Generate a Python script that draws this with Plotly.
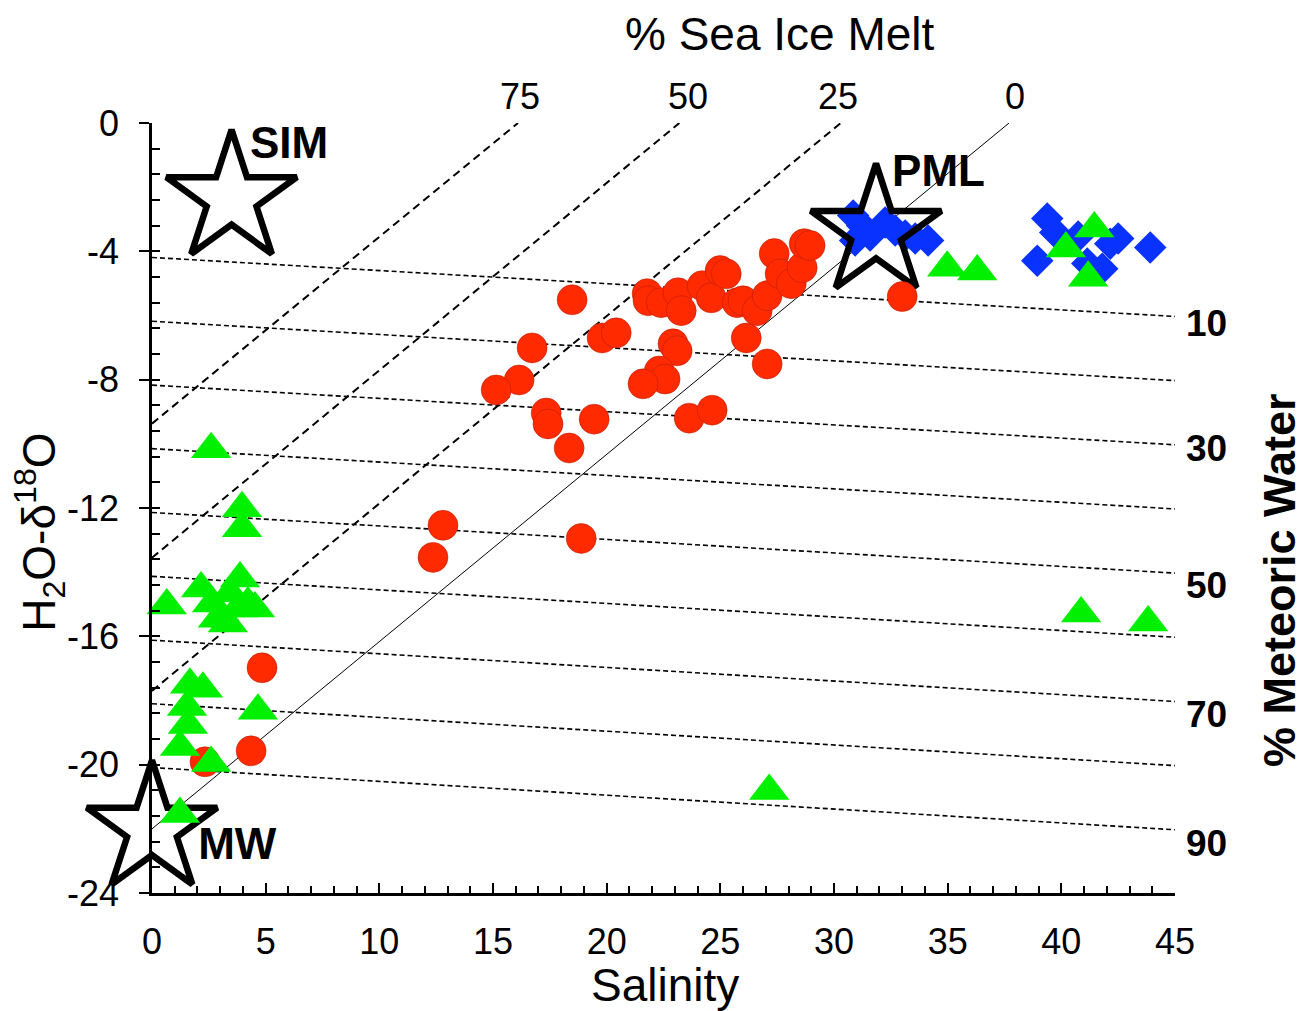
import plotly.graph_objects as go

FONT = "Liberation Sans, Arial, Helvetica, sans-serif"

# ---------------- data ----------------
# Red circles
red_sal = [33.0, 18.48, 16.72, 16.15, 15.14, 17.34, 17.42, 18.35, 19.45, 12.80, 12.36, 18.88,
           4.84, 4.36, 2.33, 21.78, 21.82, 22.40, 23.14, 23.28, 24.2, 24.6, 24.99, 25.26,
           25.74, 26.0, 26.62, 27.06, 27.37, 27.63, 28.12, 28.6, 28.69, 28.95, 26.14, 27.06,
           19.8, 20.42, 22.92, 23.1, 22.31, 22.57, 21.6, 23.63, 24.64]
red_d18o = [-5.41, -5.51, -7.01, -8.01, -8.32, -9.04, -9.38, -10.13, -9.23, -12.54, -13.54, -12.95,
            -16.98, -19.57, -19.91, -5.32, -5.54, -5.60, -5.29, -5.85, -5.07, -5.45, -4.60, -4.70,
            -5.60, -5.54, -5.85, -5.38, -4.07, -4.70, -5.01, -4.51, -3.76, -3.82, -6.70, -7.51,
            -6.70, -6.54, -6.88, -7.10, -7.73, -7.98, -8.13, -9.20, -8.95]

# Blue diamonds
blue_sal = [30.84, 31.24, 31.59, 32.25, 32.69, 33.13, 33.57, 34.14, 30.93,
            39.38, 39.73, 38.94, 42.5, 42.15, 43.91, 41.14, 41.8, 40.74]
blue_d18o = [-2.88, -3.20, -3.51, -3.10, -3.35, -3.51, -3.60, -3.66, -3.66,
             -2.98, -3.41, -4.29, -3.60, -3.76, -3.88, -4.38, -4.54, -3.54]

# Green triangles
green_sal = [2.6, 3.96, 3.96, 0.65, 2.16,
             3.87, 3.43, 4.22, 4.53, 2.64, 2.9, 3.34, 3.78,
             1.67, 2.24, 1.54, 1.58, 1.23, 2.6, 4.66, 1.23,
             27.15, 40.87, 43.82,
             34.98, 36.3, 41.45, 40.2, 41.18]
green_d18o = [-10.17, -12.01, -12.63, -15.04, -14.51,
              -14.20, -14.66, -14.98, -15.13, -14.98, -15.45, -15.60, -15.13,
              -17.51, -17.63, -18.20, -18.76, -19.45, -19.95, -18.32, -21.54,
              -20.82, -15.29, -15.57,
              -4.51, -4.63, -3.29, -3.91, -4.82]

# End members
end_names = ["SIM", "PML", "MW"]
end_sal = [3.5, 31.85, 0.0]
end_d18o = [-2.35, -3.4, -22.0]
end_label_sal = [6.03, 34.6, 3.75]
end_label_d18o = [-0.75, -1.63, -22.6]

# % sea ice melt lines (0 = solid MW-PML line)
sim_pct = ["0", "25", "50", "75"]
sim_line_d18o_at_s0 = [-22.0, -17.7, -13.55, -9.37]
sim_line_sal_at_top = [37.7, 30.3, 23.2, 16.1]
sim_label_sal = [37.97, 30.18, 23.58, 16.19]

# % meteoric water lines
mw_pct = [10, 20, 30, 40, 50, 60, 70, 80, 90]
mw_line_d18o_at_s0 = [-4.19, -6.18, -8.17, -10.15, -12.14, -14.13, -16.12, -18.10, -20.09]
mw_line_d18o_at_s45 = [-6.03, -8.03, -10.03, -12.03, -14.03, -16.03, -18.03, -20.03, -22.03]
mw_label_text = ["10", "30", "50", "70", "90"]
mw_label_d18o = [-6.25, -10.15, -14.4, -18.45, -22.45]

x_ticks = [0, 5, 10, 15, 20, 25, 30, 35, 40, 45]
y_ticks = [0, -4, -8, -12, -16, -20, -24]
y_tick_text = ["0", "-4", "-8", "-12", "-16", "-20", "-24"]

# ---------------- figure ----------------
fig = go.Figure()

# meteoric water lines
for a, b in zip(mw_line_d18o_at_s0, mw_line_d18o_at_s45):
    fig.add_trace(go.Scatter(x=[0, 45], y=[a, b], mode="lines",
                             line=dict(color="black", width=1.6, dash="5px,3px"),
                             hoverinfo="skip", showlegend=False))

# sea ice melt lines
for i, (a, s) in enumerate(zip(sim_line_d18o_at_s0, sim_line_sal_at_top)):
    if i == 0:
        ln = dict(color="black", width=1)
    else:
        ln = dict(color="black", width=2, dash="8px,5px")
    fig.add_trace(go.Scatter(x=[0, s], y=[a, 0], mode="lines", line=ln,
                             hoverinfo="skip", showlegend=False))

# blue diamonds
fig.add_trace(go.Scatter(x=blue_sal, y=blue_d18o, mode="markers", cliponaxis=False,
                         marker=dict(symbol="diamond", size=25, color="#0a32ff",
                                     line=dict(width=0)),
                         showlegend=False))

# end-member stars
fig.add_trace(go.Scatter(x=end_sal, y=end_d18o, mode="markers", cliponaxis=False,
                         marker=dict(symbol="star-open", size=98, color="black",
                                     line=dict(width=6.5, color="black")),
                         showlegend=False))

# red circles
fig.add_trace(go.Scatter(x=red_sal, y=red_d18o, mode="markers", cliponaxis=False,
                         marker=dict(symbol="circle", size=30, color="#ff2a00",
                                     line=dict(width=0.8, color="rgba(170,25,0,0.6)")),
                         showlegend=False))

# green triangles
fig.add_trace(go.Scatter(x=green_sal, y=green_d18o, mode="markers", cliponaxis=False,
                         marker=dict(symbol="triangle-up", size=35, color="#00f000",
                                     line=dict(width=0)),
                         showlegend=False))

# end-member labels
fig.add_trace(go.Scatter(x=end_label_sal, y=end_label_d18o, mode="text", cliponaxis=False,
                         text=["<b>%s</b>" % n for n in end_names],
                         textfont=dict(family=FONT, size=44, color="black"),
                         hoverinfo="skip", showlegend=False))

# dummy trace for minor inside y ticks
fig.add_trace(go.Scatter(x=[0], y=[0], yaxis="y2", mode="markers",
                         marker=dict(opacity=0), hoverinfo="skip", showlegend=False))

annotations = []
# % sea ice melt line labels (top, x in data units)
for t, s in zip(sim_pct, sim_label_sal):
    annotations.append(dict(x=s, y=1.034, xref="x", yref="paper", text=t,
                            xanchor="center", yanchor="middle", showarrow=False,
                            font=dict(family=FONT, size=36, color="black")))
# % meteoric water line labels (right, y in data units)
for t, d in zip(mw_label_text, mw_label_d18o):
    annotations.append(dict(x=1.031, y=d, xref="paper", yref="y", text="<b>%s</b>" % t,
                            xanchor="center", yanchor="middle", showarrow=False,
                            font=dict(family=FONT, size=37, color="black")))

annotations += [
    dict(x=0.614, y=1.115, xref="paper", yref="paper", text="% Sea Ice Melt",
         xanchor="center", yanchor="middle",
         showarrow=False, font=dict(family=FONT, size=46, color="black")),
    dict(x=0.5015, y=-0.119, xref="paper", yref="paper", text="Salinity",
         xanchor="center", yanchor="middle",
         showarrow=False, font=dict(family=FONT, size=46, color="black")),
    dict(x=-0.1095, y=0.469, xref="paper", yref="paper",
         text="H<sub>2</sub>O-δ<sup>18</sup>O", textangle=-90,
         xanchor="center", yanchor="middle",
         showarrow=False, font=dict(family=FONT, size=46, color="black")),
    dict(x=1.1026, y=0.4065, xref="paper", yref="paper", text="<b>% Meteoric Water</b>",
         textangle=-90, xanchor="center", yanchor="middle",
         showarrow=False, font=dict(family=FONT, size=45, color="black")),
]

fig.update_layout(
    width=1299, height=1003,
    margin=dict(l=144, r=132, t=115, b=118),
    paper_bgcolor="white", plot_bgcolor="white",
    font=dict(family=FONT, color="black"),
    annotations=annotations,
    xaxis=dict(range=[0, 45], tickvals=x_ticks, ticks="inside", ticklen=10, tickwidth=2,
               tickcolor="black", showline=True, linewidth=2.5, linecolor="black",
               showgrid=False, zeroline=False, tickfont=dict(family=FONT, size=36),
               ticklabelstandoff=15,
               minor=dict(ticks="inside", dtick=1, ticklen=7, tickwidth=1.5,
                          tickcolor="black", showgrid=False)),
    yaxis=dict(range=[-24, 0], tickvals=y_ticks, ticktext=y_tick_text, ticks="outside",
               ticklen=10, tickwidth=2,
               tickcolor="black", showline=True, linewidth=2.5, linecolor="black",
               showgrid=False, zeroline=False, tickfont=dict(family=FONT, size=36),
               ticklabelstandoff=13),
    yaxis2=dict(range=[-24, 0], overlaying="y", side="left", anchor="x",
                tick0=0, dtick=0.8, ticks="inside", ticklen=8, tickwidth=1.8,
                tickcolor="black", showticklabels=False, showline=False,
                showgrid=False, zeroline=False),
)

fig.write_html("out.html")
